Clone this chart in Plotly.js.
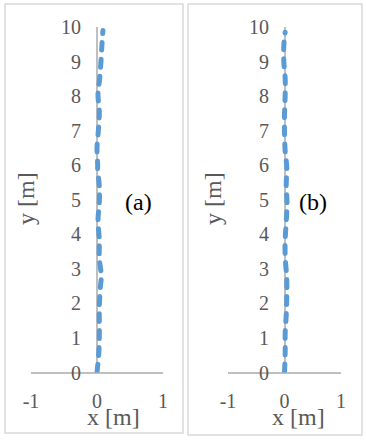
<!DOCTYPE html>
<html>
<head>
<meta charset="utf-8">
<script src="https://cdn.plot.ly/plotly-3.0.1.min.js"></script>
<style>
body { margin: 0; background: #fff; }
#graph { width: 366px; height: 440px; }
.scatterlayer .js-line { stroke-linecap: round; }
</style>
</head>
<body>
<div id="graph"></div>
<script>
// panel (a) path
var a_y = [0, 0.5, 1.0, 1.5, 1.9, 2.45, 2.8, 3.3, 3.85, 4.4, 4.9, 5.4, 5.85, 6.0, 6.5, 7.1, 7.55, 8.05, 8.5, 9.0, 9.5, 9.9]
var a_x = [0, 0.025, 0.035, 0.035, 0.035, 0.05, 0.065, 0.035, 0.035, 0.015, 0.035, 0.035, 0.01, 0.01, 0, 0.025, 0.035, 0.015, 0.04, 0.06, 0.075, 0.09]

// panel (b) path
var b_y = [0, 0.6, 1.15, 1.65, 2.15, 2.7, 3.35, 3.85, 4.35, 4.9, 5.4, 5.95, 6.4, 6.9, 7.45, 8.05, 8.5, 9.0, 9.45, 9.85]
var b_x = [0, 0.012, 0.012, 0.03, 0.04, 0.04, 0.012, 0.012, 0.03, 0.045, 0.03, 0.04, 0.012, 0, 0, 0.012, 0.012, -0.012, -0.012, 0.012]

var panelLabels = ['(a)', '(b)']
var xTitle = 'x [m]'
var yTitle = 'y [m]'

var W = 366, H = 440
function px(x) { return x / W }
function py(y) { return 1 - y / H }

var serif = '"Liberation Serif", "Times New Roman", serif'
var grey = '#595959'
var tickFont = {family: serif, size: 20, color: grey}
var titleFont = {family: serif, size: 24, color: grey}

function trace(xs, ys, xa, ya) {
	return {
		x: xs,
		y: ys,
		xaxis: xa,
		yaxis: ya,
		mode: 'lines',
		hoverinfo: 'none',
		line: {color: '#5B9BD5', width: 5, dash: '8px,9px', shape: 'spline'}
	}
}

var traces = [trace(a_x, a_y, 'x', 'y'), trace(b_x, b_y, 'x2', 'y2')]

function xaxis(d0, d1, ya) {
	return {
		domain: [px(d0), px(d1)],
		anchor: ya,
		range: [-1, 1],
		tickvals: [-1, 0, 1],
		ticktext: ['-1', '0', '1'],
		showgrid: false,
		showline: false,
		zeroline: true,
		zerolinecolor: '#bfbfbf',
		zerolinewidth: 2,
		tickfont: tickFont,
		ticklabelstandoff: 14,
		fixedrange: true
	}
}

function yaxis(pos) {
	return {
		domain: [py(372.5), py(27)],
		anchor: 'free',
		position: px(pos),
		range: [0, 10],
		dtick: 1,
		showgrid: false,
		showline: false,
		zeroline: true,
		zerolinecolor: '#bfbfbf',
		zerolinewidth: 2,
		tickfont: tickFont,
		ticklabelstandoff: 16,
		fixedrange: true
	}
}

function note(x, y, text, font, angle) {
	return {
		xref: 'paper', yref: 'paper', x: px(x), y: py(y),
		xanchor: 'center', yanchor: 'middle',
		text: text, textangle: angle || 0, showarrow: false, font: font
	}
}

var labelFont = {family: serif, size: 24, color: '#000'}

var layout = {
	width: W,
	height: H,
	margin: {l: 0, r: 0, t: 0, b: 0},
	paper_bgcolor: '#fff',
	plot_bgcolor: 'rgba(0,0,0,0)',
	showlegend: false,
	xaxis: xaxis(31, 163, 'y'),
	yaxis: yaxis(97),
	xaxis2: xaxis(228, 341, 'y2'),
	yaxis2: yaxis(285),
	shapes: [
		{type: 'rect', xref: 'paper', yref: 'paper', x0: px(5), x1: px(183), y0: py(433), y1: py(4), line: {color: '#d9d9d9', width: 1.5}},
		{type: 'rect', xref: 'paper', yref: 'paper', x0: px(188), x1: px(362), y0: py(435), y1: py(4), line: {color: '#d9d9d9', width: 1.5}}
	],
	annotations: [
		note(113, 417, xTitle, titleFont),
		note(298, 417, xTitle, titleFont),
		note(26, 199, yTitle, titleFont, -90),
		note(213, 199, yTitle, titleFont, -90),
		note(138, 202, panelLabels[0], labelFont),
		note(313, 202, panelLabels[1], labelFont)
	]
}

Plotly.newPlot('graph', traces, layout, {staticPlot: true, displayModeBar: false})
</script>
</body>
</html>
